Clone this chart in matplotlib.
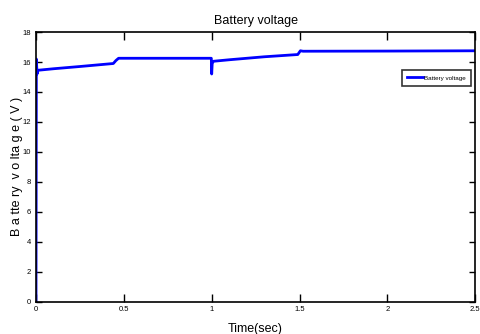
import matplotlib
matplotlib.use('Agg')
import matplotlib.pyplot as plt

# tempo (s) e tensão da bateria (V)
tempo = [0, 0.002, 0.006, 0.012, 0.10, 0.25, 0.44, 0.455, 0.47, 0.70, 0.998,
         1.0, 1.003, 1.01, 1.10, 1.30, 1.49, 1.505, 1.52, 2.0, 2.5]
tensao = [0, 16.2, 15.2, 15.45, 15.55, 15.7, 15.9, 16.1, 16.25, 16.25, 16.25,
          15.2, 15.9, 16.05, 16.15, 16.35, 16.5, 16.75, 16.72, 16.73, 16.75]

xticks = [0, 0.5, 1, 1.5, 2, 2.5]
yticks = [0, 2, 4, 6, 8, 10, 12, 14, 16, 18]

plt.rcParams['font.family'] = ['Liberation Sans', 'DejaVu Sans']

fig = plt.figure(figsize=(4.8, 3.34), dpi=100)
ax = fig.add_axes([0.075, 0.097, 0.915, 0.807])
ax.plot(tempo, tensao, color='#0000ff', lw=2, label='Battery voltage')
ax.set_xlim(0, 2.5)
ax.set_ylim(0, 18)
ax.set_xticks(xticks)
ax.set_xticklabels([f'{t:g}' for t in xticks])
ax.set_yticks(yticks)
ax.tick_params(direction='in', top=True, right=True, labelsize=5.5, length=4, width=1)
ax.tick_params(axis='x', length=6)
for s in ax.spines.values():
    s.set_linewidth(1.2)
ax.set_title('Battery voltage', fontsize=9, pad=6)
ax.set_xlabel('Time(sec)', fontsize=9, labelpad=7)
ax.set_ylabel('B a tte ry  v o lta g e ( V )', fontsize=9, labelpad=0)
leg = ax.legend(loc='upper right', bbox_to_anchor=(0.997, 0.87), fontsize=4.5,
                fancybox=False, edgecolor='black', handlelength=2.5,
                borderpad=0.8, handletextpad=0.2)
leg.get_frame().set_linewidth(1.2)
fig.savefig('out.png', dpi=100)
